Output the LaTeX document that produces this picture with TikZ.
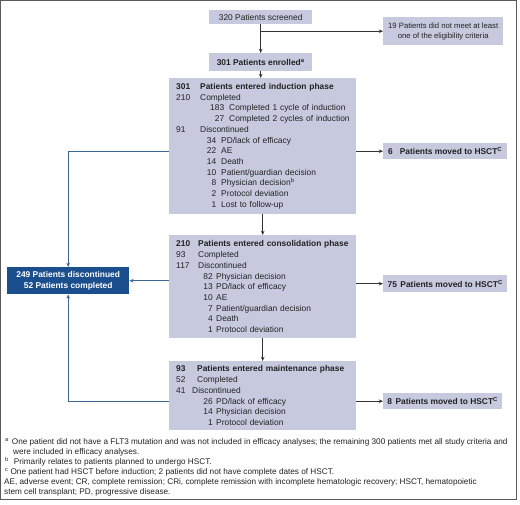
\documentclass[tikz,border=0pt]{standalone}
\usepackage{fontspec}
\setmainfont{Liberation Sans}
\usetikzlibrary{arrows.meta}
\definecolor{boxfill}{HTML}{C7C9DF}
\definecolor{darkblue}{HTML}{1B4E8C}
\definecolor{lineblue}{HTML}{3C6694}
\definecolor{arrowgray}{HTML}{333333}
\definecolor{txt}{HTML}{222222}
\definecolor{framegray}{HTML}{5A5A5A}
\newcommand\Lrow[3]{\mbox{\makebox[#1][l]{#2}#3}}
\newcommand\Srow[4]{\mbox{\makebox[#1][r]{#2}\hspace{#4}#3}}
\begin{document}
\begin{tikzpicture}[x=1pt,y=-1pt,
  every node/.style={text=txt},
  plain/.style={fill=boxfill, anchor=north west, inner sep=0pt, align=center,
    font=\fontsize{8.4}{10.7}\selectfont},
  phase/.style={fill=boxfill, anchor=north west, inner xsep=7pt, inner ysep=0pt,
    text width=173pt, align=left, font=\fontsize{8.4}{10.7}\selectfont,
    execute at begin node=\setlength{\parindent}{0pt}},
  hsct/.style={fill=boxfill, anchor=north west, inner xsep=4pt, inner ysep=0pt,
    align=left, font=\fontsize{8.4}{10.7}\selectfont\bfseries},
  sumbox/.style={fill=darkblue, text=white, anchor=north west, inner sep=0pt,
    align=center, font=\fontsize{8.4}{10.4}\selectfont\bfseries},
  fn/.style={anchor=base west, inner sep=0pt, font=\fontsize{8.2}{10}\selectfont},
  garrow/.style={draw=arrowgray, line width=0.9pt, -{Stealth[length=4.2pt,width=3.6pt]}},
  barrow/.style={draw=lineblue, line width=0.9pt, -{Stealth[length=4.2pt,width=3.6pt]}}
]
\useasboundingbox (0,0) rectangle (520,505);
\draw[framegray, line width=1.2pt] (0.6,0.6) rectangle (516.6,499.4);

\node[plain, minimum width=103pt, minimum height=14pt] (scr) at (209,10) {320 Patients screened};
\node[plain, minimum width=103pt, minimum height=18pt, font=\fontsize{8.4}{10.7}\selectfont\bfseries] (enr) at (209,53) {301 Patients enrolled\textsuperscript{a}};
\node[plain, minimum width=120pt, minimum height=28pt, font=\fontsize{7.7}{10}\selectfont] (inel) at (383,17) {19 Patients did not meet at least\\one of the eligibility criteria};

\node[phase, minimum height=136pt] (ind) at (169,78) {%
\Lrow{24pt}{\textbf{301}}{\textbf{Patients entered induction phase}}\\
\Lrow{24pt}{210}{Completed}\\
\Srow{48pt}{183}{Completed 1 cycle of induction}{5pt}\\
\Srow{48pt}{27}{Completed 2 cycles of induction}{5pt}\\
\Lrow{24pt}{91}{Discontinued}\\
\Srow{40pt}{34}{PD/lack of efficacy}{5pt}\\
\Srow{40pt}{22}{AE}{5pt}\\
\Srow{40pt}{14}{Death}{5pt}\\
\Srow{40pt}{10}{Patient/guardian decision}{5pt}\\
\Srow{40pt}{8}{Physician decision\textsuperscript{b}}{5pt}\\
\Srow{40pt}{2}{Protocol deviation}{5pt}\\
\Srow{40pt}{1}{Lost to follow-up}{5pt}};

\node[phase, minimum height=103pt] (con) at (169,235) {%
\Lrow{22pt}{\textbf{210}}{\textbf{Patients entered consolidation phase}}\\
\Lrow{22pt}{93}{Completed}\\
\Lrow{22pt}{117}{Discontinued}\\
\Srow{36.5pt}{82}{Physician decision}{3.5pt}\\
\Srow{36.5pt}{13}{PD/lack of efficacy}{3.5pt}\\
\Srow{36.5pt}{10}{AE}{3.5pt}\\
\Srow{36.5pt}{7}{Patient/guardian decision}{3.5pt}\\
\Srow{36.5pt}{4}{Death}{3.5pt}\\
\Srow{36.5pt}{1}{Protocol deviation}{3.5pt}};

\node[phase, minimum height=69pt] (mai) at (169,361) {%
\Lrow{21pt}{\textbf{93}}{\textbf{Patients entered maintenance phase}}\\
\Lrow{21pt}{52}{Completed}\\
\Lrow{16pt}{41}{Discontinued}\\
\Srow{36.5pt}{26}{PD/lack of efficacy}{3.5pt}\\
\Srow{36.5pt}{14}{Physician decision}{3.5pt}\\
\Srow{36.5pt}{1}{Protocol deviation}{3.5pt}};

\node[hsct, minimum width=124pt, minimum height=16pt] (h6) at (383,143) {6\hspace{7pt}Patients moved to HSCT\textsuperscript{C}};
\node[hsct, minimum width=124pt, minimum height=17pt] (h75) at (383,275) {75\hspace{3.5pt}Patients moved to HSCT\textsuperscript{C}};
\node[hsct, minimum width=119pt, minimum height=16pt] (h8) at (383,393) {8\hspace{3.5pt}Patients moved to HSCT\textsuperscript{C}};

\node[sumbox, minimum width=122pt, minimum height=27pt] (disc) at (7,267) {249 Patients discontinued\\52 Patients completed};

% gray connectors
\coordinate (br) at (scr.south |- inel.west);
\draw[garrow] (scr.south) -- (enr.north);
\draw[garrow] (br) -- (inel.west);
\draw[garrow] (enr.south) -- (enr.south |- ind.north);
\draw[garrow] (ind.south) -- (con.north);
\draw[garrow] (con.south) -- (mai.north);
\draw[garrow] (ind.east |- h6.west) -- (h6.west);
\draw[garrow] (con.east |- h75.west) -- (h75.west);
\draw[garrow] (mai.east |- h8.west) -- (h8.west);

% blue connectors
\draw[barrow] (ind.west |- h6.west) -| (disc.north);
\draw[barrow] (con.west |- disc.east) -- (disc.east);
\draw[barrow] (mai.west |- h8.west) -| (disc.south);

% footnotes
\node[fn] (fa) at (5,444.5) {\textsuperscript{a}\hspace{3pt}One patient did not have a FLT3 mutation and was not included in efficacy analyses; the remaining 300 patients met all study criteria and};
\node[fn] (fa2) at (13,454.5) {were included in efficacy analyses.};
\node[fn] (fb) at (5,464.5) {\textsuperscript{b}\hspace{5pt}Primarily relates to patients planned to undergo HSCT.};
\node[fn] (fc) at (5,474.5) {\textsuperscript{c}\hspace{2pt}One patient had HSCT before induction; 2 patients did not have complete dates of HSCT.};
\node[fn] (fd) at (4,484.5) {AE, adverse event; CR, complete remission; CRi, complete remission with incomplete hematologic recovery; HSCT, hematopoietic};
\node[fn] (fe) at (4,494.5) {stem cell transplant; PD, progressive disease.};
\end{tikzpicture}
\end{document}
